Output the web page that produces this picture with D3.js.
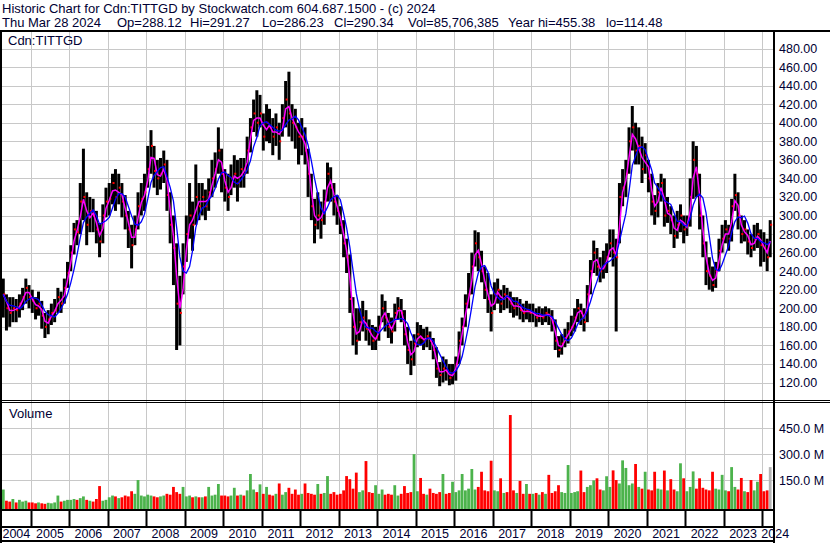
<!DOCTYPE html>
<html>
<head>
<meta charset="utf-8">
<script src="https://cdn.jsdelivr.net/npm/d3@7"></script>
<style>
  body { margin: 0; background: #fff; }
  text { font-family: "Liberation Sans", Arial, sans-serif; fill: #000033; }
</style>
</head>
<body>
<svg width="830" height="543"></svg>
<script>
// monthly bars, Apr 2004 .. Mar 2024
const hi = [
  232, 215, 212, 212, 210, 215, 222, 232, 225,
  220, 212, 218, 208, 195, 198, 205, 210, 222, 218, 232, 250,
  268, 292, 295, 335, 372, 325, 320, 318, 305, 292, 312, 330,
  335, 345, 350, 345, 335, 322, 305, 290, 300, 325, 335, 345,
  375, 392, 375, 360, 362, 370, 360, 325, 300, 270, 235, 270,
  300, 335, 315, 355, 335, 335, 328, 340, 360, 368, 395, 372,
  350, 345, 355, 365, 360, 362, 362, 385, 405, 425, 435, 430,
  410, 420, 415, 405, 410, 400, 420, 445, 455, 420, 415, 400,
  405, 395, 372, 345, 318, 325, 315, 328, 357, 352, 335, 322,
  310, 295, 275, 258, 212, 200, 200, 208, 198, 188, 182, 180,
  192, 215, 208, 195, 190, 205, 212, 210, 198, 180, 165, 172,
  185, 182, 178, 180, 175, 168, 158, 142, 148, 145, 140, 140,
  148, 175, 190, 215, 238, 260, 284, 282, 262, 245, 238, 215,
  228, 232, 220, 225, 222, 218, 212, 212, 210, 205, 208, 205,
  205, 200, 202, 200, 202, 200, 198, 188, 170, 172, 178, 185,
  192, 200, 210, 205, 200, 225, 252, 273, 265, 255, 262, 270,
  285, 285, 275, 335, 350, 360, 395, 418, 400, 395, 385, 378,
  360, 345, 322, 335, 345, 340, 320, 310, 300, 305, 312, 300,
  300, 340, 380, 375, 345, 300, 272, 255, 245, 250, 275, 290,
  295, 290, 318, 345, 325, 300, 295, 285, 280, 290, 292, 285,
  282, 275, 295
];
const lo = [
  190, 176, 180, 185, 185, 190, 198, 205, 200,
  195, 188, 192, 178, 168, 172, 182, 185, 195, 195, 205, 222,
  240, 258, 268, 280, 295, 268, 282, 282, 270, 255, 270, 298,
  300, 312, 305, 312, 298, 285, 265, 243, 268, 285, 300, 305,
  330, 345, 330, 322, 328, 335, 305, 270, 225, 155, 160, 215,
  250, 275, 262, 290, 295, 300, 295, 305, 320, 330, 345, 325,
  315, 305, 322, 330, 315, 330, 330, 345, 368, 390, 385, 395,
  370, 380, 378, 365, 375, 360, 385, 395, 385, 380, 372, 355,
  365, 355, 320, 295, 270, 285, 275, 290, 315, 315, 300, 290,
  280, 255, 238, 195, 160, 150, 165, 175, 165, 160, 155, 155,
  165, 185, 175, 168, 162, 175, 188, 185, 160, 140, 128, 138,
  158, 160, 155, 158, 155, 145, 125, 116, 120, 122, 117, 118,
  122, 140, 160, 180, 200, 215, 245, 240, 228, 210, 195, 175,
  198, 205, 195, 198, 200, 195, 190, 192, 188, 185, 188, 185,
  185, 180, 185, 182, 185, 182, 175, 155, 147, 150, 158, 162,
  170, 175, 185, 182, 175, 185, 215, 238, 235, 228, 232, 238,
  255, 245, 175, 270, 310, 320, 345, 370, 355, 355, 335, 345,
  325, 300, 290, 298, 315, 288, 292, 280, 265, 275, 282, 270,
  278, 288, 318, 320, 285, 255, 225, 220, 218, 222, 240, 260,
  270, 262, 272, 305, 285, 270, 272, 258, 255, 262, 265, 245,
  250, 240, 255
];
const close = [
  215, 200, 195, 200, 198, 205, 212, 222, 212,
  208, 200, 205, 192, 180, 188, 195, 198, 212, 205, 222, 238,
  260, 285, 282, 315, 320, 290, 305, 300, 285, 272, 300, 315,
  318, 335, 320, 330, 315, 300, 285, 268, 285, 310, 318, 325,
  350, 375, 348, 340, 345, 355, 322, 290, 265, 205, 195, 245,
  280, 300, 290, 320, 310, 320, 310, 325, 340, 350, 370, 345,
  330, 320, 340, 345, 335, 350, 345, 370, 395, 410, 400, 410,
  385, 400, 395, 385, 395, 380, 405, 425, 410, 400, 395, 385,
  385, 370, 345, 310, 290, 300, 295, 315, 345, 330, 315, 305,
  290, 270, 255, 210, 180, 165, 185, 190, 178, 175, 165, 168,
  180, 200, 190, 180, 175, 195, 200, 195, 172, 155, 145, 162,
  172, 168, 165, 170, 165, 155, 135, 128, 135, 132, 125, 130,
  140, 165, 180, 205, 215, 245, 270, 255, 240, 220, 210, 195,
  215, 220, 205, 215, 212, 205, 200, 205, 198, 195, 198, 195,
  195, 190, 193, 190, 195, 192, 185, 165, 155, 162, 168, 175,
  180, 190, 200, 195, 185, 215, 240, 260, 245, 240, 245, 255,
  270, 260, 255, 320, 330, 345, 380, 395, 370, 375, 350, 365,
  340, 315, 305, 325, 335, 300, 305, 295, 278, 290, 300, 285,
  290, 320, 360, 345, 300, 270, 240, 235, 225, 240, 262, 275,
  285, 275, 310, 322, 300, 280, 285, 272, 265, 275, 280, 268,
  265, 255, 290
];
// volume in millions
const volume = [
  95, 30, 25, 40, 20, 35, 25, 30, 20,
  20, 15, 20, 15, 12, 18, 15, 20, 60, 25, 30, 35,
  35, 40, 35, 45, 55, 35, 30, 25, 40, 115, 30, 35,
  50, 60, 55, 45, 50, 60, 55, 85, 70, 150, 60, 55,
  65, 60, 55, 50, 55, 60, 70, 65, 110, 80, 70, 110,
  55, 60, 50, 55, 50, 50, 55, 110, 60, 65, 127, 60,
  60, 55, 60, 105, 60, 65, 60, 90, 185, 95, 80, 125,
  70, 110, 65, 60, 70, 130, 65, 80, 105, 70, 95, 65,
  70, 130, 75, 70, 65, 127, 70, 75, 173, 70, 80, 65,
  70, 90, 173, 155, 100, 193, 80, 90, 260, 80, 75, 120,
  70, 95, 65, 70, 65, 120, 60, 70, 115, 75, 80, 300,
  85, 162, 70, 65, 100, 75, 70, 80, 185, 70, 75, 140,
  80, 90, 185, 90, 100, 214, 95, 110, 198, 90, 85, 262,
  90, 85, 160, 75, 80, 527, 90, 75, 145, 70, 127, 70,
  70, 75, 65, 80, 70, 180, 75, 85, 120, 80, 75, 237,
  75, 80, 85, 205, 80, 110, 120, 148, 160, 95, 90, 172,
  110, 206, 150, 130, 264, 220, 120, 130, 243, 110, 100, 198,
  95, 90, 198, 100, 95, 205, 90, 155, 95, 85, 247, 160,
  85, 110, 200, 100, 160, 105, 95, 90, 198, 100, 95, 180,
  90, 85, 225, 110, 95, 162, 85, 80, 150, 90, 140, 185,
  85, 90, 225
];
const priceTicks = [120, 140, 160, 180, 200, 220, 240, 260, 280, 300, 320, 340, 360, 380, 400, 420, 440, 460, 480];
const volTicks = [150, 300, 450];
const years = d3.range(2004, 2025);

const months = d3.timeMonth.range(new Date(2004, 3, 1), new Date(2024, 3, 1));
const bars = months.map((m, i) => ({
  date: d3.timeDay.offset(m, 15),
  hi: hi[i], lo: lo[i], close: close[i], vol: volume[i],
  dir: i === months.length - 1 ? 0 : (i > 0 && close[i] < close[i - 1] ? -1 : 1)
}));

function sma(arr, n) {
  return arr.map((v, i) => {
    const s = arr.slice(Math.max(0, i - n + 1), i + 1);
    return d3.mean(s);
  });
}
const maShort = sma(close, 2);
const maLong = sma(close, 5);

const svg = d3.select("svg");
const plotRight = 773;

const x = d3.scaleTime()
  .domain([new Date(2005, 0, 1), new Date(2024, 0, 1)])
  .range([30.7, 762.3]);
const y = d3.scaleLinear().domain([120, 480]).range([382.5, 48.5]);
const yv = d3.scaleLinear().domain([0, 450]).range([505.9, 428.3]);

svg.append("rect").attr("width", 830).attr("height", 543).attr("fill", "#fff");

// header
svg.append("text").attr("x", 2).attr("y", 13).style("font-size", "13px")
  .text("Historic Chart for Cdn:TITTGD by Stockwatch.com 604.687.1500 - (c) 2024");
const info = [
  [2, "Thu Mar 28 2024"], [117, "Op=288.12"], [190, "Hi=291.27"], [262, "Lo=286.23"],
  [334, "Cl=290.34"], [408, "Vol=85,706,385"], [508, "Year hi=455.38"], [606, "lo=114.48"]
];
svg.selectAll(".info").data(info).enter().append("text")
  .attr("x", d => d[0]).attr("y", 27).style("font-size", "13px").text(d => d[1]);

// grid
const grid = svg.append("g").attr("stroke", "#c8c8c8").attr("stroke-width", 1);
grid.selectAll(".hp").data(priceTicks).enter().append("line")
  .attr("x1", 2).attr("x2", plotRight)
  .attr("y1", d => Math.round(y(d)) + 0.5).attr("y2", d => Math.round(y(d)) + 0.5);
grid.selectAll(".hv").data(volTicks).enter().append("line")
  .attr("x1", 2).attr("x2", plotRight)
  .attr("y1", d => Math.round(yv(d)) + 0.5).attr("y2", d => Math.round(yv(d)) + 0.5);
const yearLines = years.slice(1).map(yr => new Date(yr, 0, 1));
grid.selectAll(".vx").data(yearLines).enter().append("line")
  .attr("x1", d => Math.round(x(d)) + 0.5).attr("x2", d => Math.round(x(d)) + 0.5)
  .attr("y1", 32).attr("y2", 509);

// volume bars
svg.append("g").selectAll("rect").data(bars).enter().append("rect")
  .attr("x", d => x(d.date) - 1.4)
  .attr("width", 2.8)
  .attr("y", d => yv(d.vol))
  .attr("height", d => 509 - yv(d.vol))
  .attr("fill", d => d.dir < 0 ? "#ff0000" : d.dir > 0 ? "#4cb34c" : "#b4b4b4");

// price bars
const pb = svg.append("g");
pb.selectAll("line").data(bars).enter().append("line")
  .attr("x1", d => x(d.date)).attr("x2", d => x(d.date))
  .attr("y1", d => y(d.hi)).attr("y2", d => y(d.lo))
  .attr("stroke", "#000").attr("stroke-width", 3);
pb.selectAll("rect").data(bars).enter().append("rect")
  .attr("x", d => x(d.date)).attr("y", d => y(d.close) - 1)
  .attr("width", 2).attr("height", 2).attr("fill", "#ff0000");

// moving averages
const lineGen = arr => d3.line().x((d, i) => x(bars[i].date)).y(d => y(d))(arr);
svg.append("path").attr("d", lineGen(maShort))
  .attr("fill", "none").attr("stroke", "#ff00ff").attr("stroke-width", 1.5);
svg.append("path").attr("d", lineGen(maLong))
  .attr("fill", "none").attr("stroke", "#0000ff").attr("stroke-width", 1.3);

// white area on the right
svg.append("rect").attr("x", plotRight + 2).attr("y", 32).attr("width", 60).attr("height", 511).attr("fill", "#fff");

// panel labels
svg.append("text").attr("x", 8).attr("y", 45).style("font-size", "13px").text("Cdn:TITTGD");
svg.append("text").attr("x", 9).attr("y", 418).style("font-size", "13px").text("Volume");

// right axes
svg.selectAll(".pl").data(priceTicks).enter().append("text")
  .attr("x", 779).attr("y", d => y(d)).attr("dy", "0.36em")
  .style("font-size", "12.5px").text(d => d3.format(".2f")(d));
svg.selectAll(".vl").data(volTicks).enter().append("text")
  .attr("x", 779).attr("y", d => yv(d)).attr("dy", "0.36em")
  .style("font-size", "12.5px").text(d => d3.format(".1f")(d) + " M");

// frame lines
const frame = svg.append("g").attr("fill", "#000");
frame.append("rect").attr("x", 0).attr("y", 30).attr("width", 830).attr("height", 2);
frame.append("rect").attr("x", 0).attr("y", 32).attr("width", 2).attr("height", 511);
frame.append("rect").attr("x", plotRight).attr("y", 32).attr("width", 2).attr("height", 511);
frame.append("rect").attr("x", 0).attr("y", 400).attr("width", 830).attr("height", 1);
frame.append("rect").attr("x", 0).attr("y", 402).attr("width", 830).attr("height", 1);
frame.append("rect").attr("x", 0).attr("y", 509).attr("width", plotRight).attr("height", 2);
frame.append("rect").attr("x", 0).attr("y", 526).attr("width", plotRight).attr("height", 2);
frame.append("rect").attr("x", 0).attr("y", 540).attr("width", plotRight).attr("height", 2);
frame.selectAll(".tk").data(yearLines).enter().append("rect")
  .attr("x", d => Math.round(x(d)) - 0.5).attr("y", 511).attr("width", 2).attr("height", 15);

// year labels
svg.selectAll(".yl").data(years).enter().append("text")
  .attr("x", (yr, i) => {
    if (i === years.length - 1) return x(new Date(yr, 0, 1)) - 1;
    const a = Math.max(2, x(new Date(yr, 0, 1)));
    const b = x(new Date(yr + 1, 0, 1));
    return (a + b) / 2;
  })
  .attr("y", 538)
  .attr("text-anchor", (yr, i) => i === years.length - 1 ? "start" : "middle")
  .style("font-size", "12.5px")
  .text(d => d);
</script>
</body>
</html>
